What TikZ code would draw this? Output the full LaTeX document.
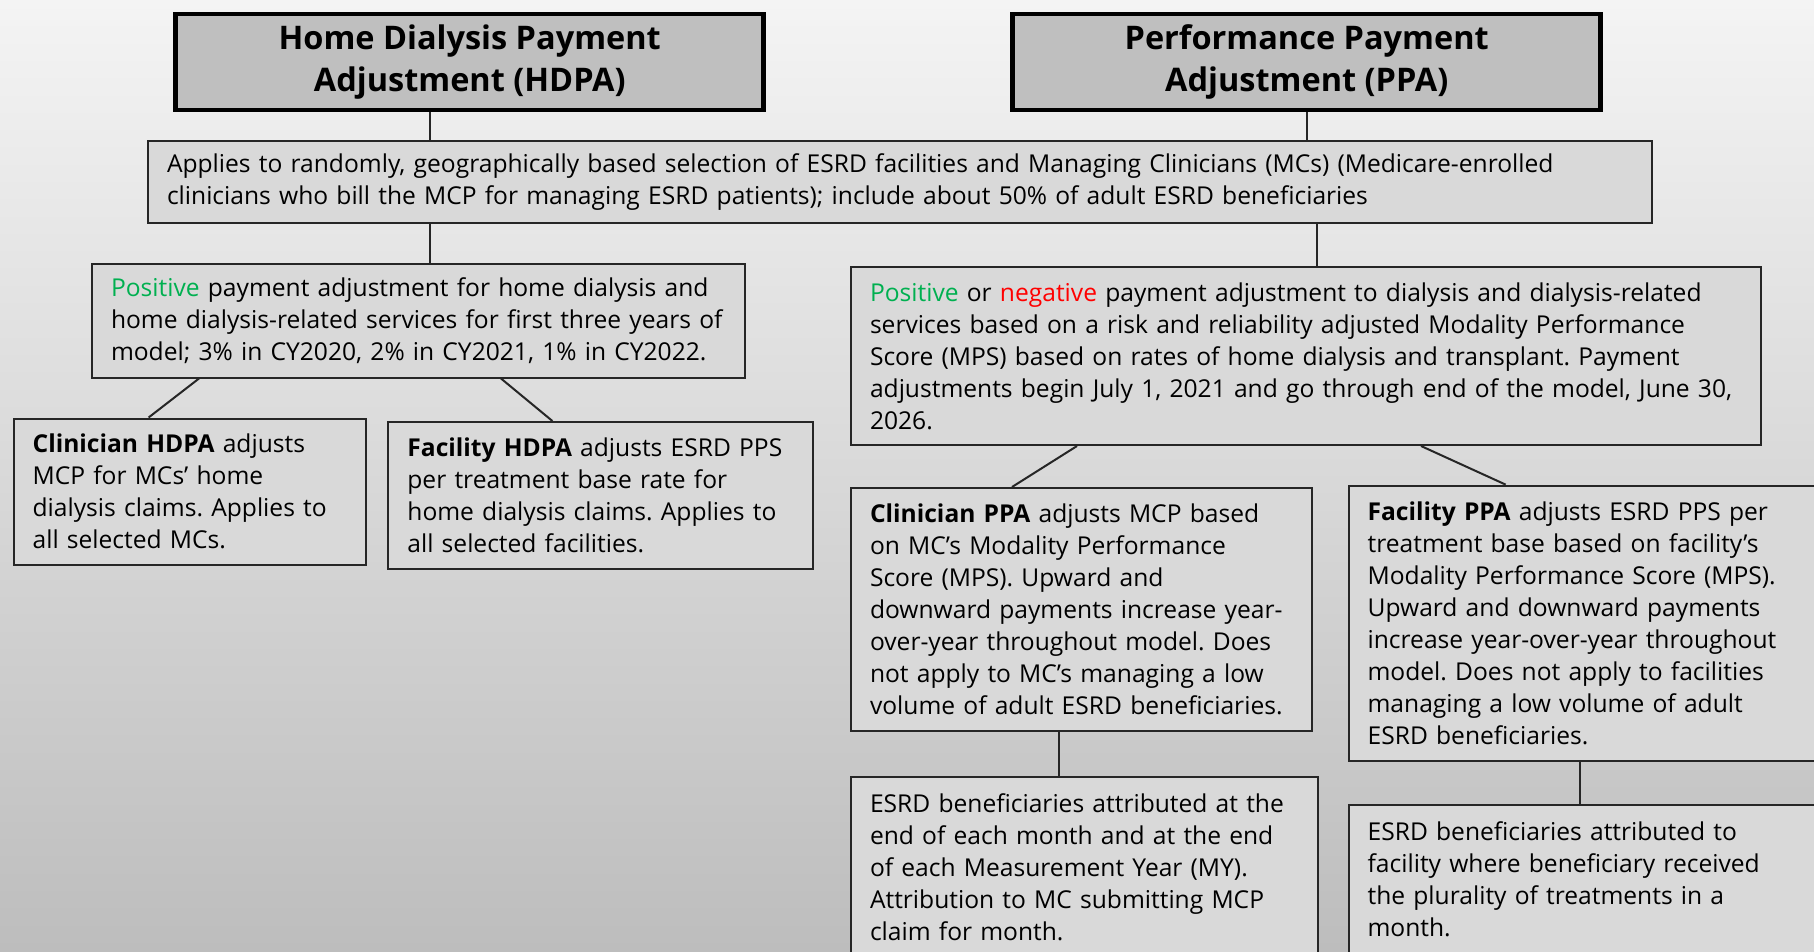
\documentclass[tikz,border=0pt]{standalone}
\usepackage{fontspec}
\setmainfont{Open Sans}
\usepackage{tikz}

\definecolor{posgreen}{HTML}{00B050}
\definecolor{negred}{HTML}{FF0000}
\definecolor{titlegray}{HTML}{BFBFBF}
\definecolor{boxgray}{HTML}{D9D9D9}
\definecolor{bgtop}{HTML}{F4F4F4}
\definecolor{bgbot}{HTML}{BDBDBD}

\newcommand{\pos}{\textcolor{posgreen}{Positive}}
\newcommand{\negt}{\textcolor{negred}{negative}}
\frenchspacing

\begin{document}
\begin{tikzpicture}[x=1pt, y=-1pt,
    title/.style={draw=black, line width=4.5pt, fill=titlegray, align=center,
      minimum width=588pt, minimum height=96pt,
      font=\fontsize{32.5}{41.5}\selectfont\bfseries},
    box/.style={draw=black!85, line width=2pt, fill=boxgray, align=left,
      anchor=north west, inner xsep=19pt, inner ysep=0pt,
      font=\fontsize{24.6}{32}\selectfont},
    link/.style={draw=black!85, line width=2pt}]
   \useasboundingbox (0,0) rectangle (1814,951);
   \clip (0,0) rectangle (1814,951);
   \shade[top color=bgtop, bottom color=bgbot] (0,0) rectangle (1814,951);

   \node[title] (hdpa) at (469.7,61.9) {Home Dialysis Payment\\Adjustment (HDPA)};
   \node[title] (ppa) at (1306.7,61.9) {Performance Payment\\Adjustment (PPA)};

   \node[box, text width=1466pt, minimum height=82pt] (apply) at (147,140)
     {Applies to randomly, geographically based selection of ESRD facilities and Managing Clinicians (MCs) (Medicare-enrolled\\
      clinicians who bill the MCP for managing ESRD patients); include about 50\% of adult ESRD beneficiaries};

   \node[box, text width=615pt, minimum height=114pt] (hpos) at (91,262.5)
     {\pos{} payment adjustment for home dialysis and\\
      \mbox{home dialysis-related services for first three years of}\\
      model; 3\% in CY2020, 2\% in CY2021, 1\% in CY2022.};
   \node[box, text width=872pt, minimum height=178pt] (ppos) at (850,266)
     {\pos{} or \negt{} payment adjustment to dialysis and dialysis-related\\
      services based on a risk and reliability adjusted Modality Performance\\
      Score (MPS) based on rates of home dialysis and transplant. Payment\\
      \mbox{adjustments begin July 1, 2021 and go through end of the model, June 30,}\\
      2026.};

   \node[box, text width=314pt, minimum height=146pt] (hclin) at (12.6,417.5)
     {\textbf{Clinician HDPA} adjusts\\
      MCP for MCs’ home\\
      dialysis claims. Applies to\\
      all selected MCs.};
   \node[box, text width=387pt, minimum height=147pt] (hfac) at (387.4,421)
     {\textbf{Facility HDPA} adjusts ESRD PPS\\
      per treatment base rate for\\
      home dialysis claims. Applies to\\
      all selected facilities.};

   \node[box, text width=423pt, minimum height=243pt] (pclin) at (850,487)
     {\textbf{Clinician PPA} adjusts MCP based\\
      on MC’s Modality Performance\\
      Score (MPS). Upward and\\
      downward payments increase year-\\
      over-year throughout model. Does\\
      not apply to MC’s managing a low\\
      volume of adult ESRD beneficiaries.};
   \node[box, text width=450pt, minimum height=275pt] (pfac) at (1347.6,484.6)
     {\textbf{Facility PPA} adjusts ESRD PPS per\\
      treatment base based on facility’s\\
      Modality Performance Score (MPS).\\
      Upward and downward payments\\
      increase year-over-year throughout\\
      model. Does not apply to facilities\\
      managing a low volume of adult\\
      ESRD beneficiaries.};

   \node[box, text width=429pt, minimum height=180pt] (pclinmy) at (850,776)
     {ESRD beneficiaries attributed at the\\
      end of each month and at the end\\
      of each Measurement Year (MY).\\
      Attribution to MC submitting MCP\\
      claim for month.};
   \node[box, text width=450pt, minimum height=148pt] (pfacmy) at (1347.6,804)
     {ESRD beneficiaries attributed to\\
      facility where beneficiary received\\
      the plurality of treatments in a\\
      month.};

   % connectors
   \coordinate (hx) at (430,0);
   \coordinate (px) at (1317,0);
   \draw[link] (hdpa.south -| hx) -- (apply.north -| hx);
   \draw[link] (ppa.south) -- (ppa.south |- apply.north);
   \draw[link] (apply.south -| hx) -- (hpos.north -| hx);
   \draw[link] (apply.south -| px) -- (ppos.north -| px);
   \draw[link] ([xshift=108pt]hpos.south west) -- ([xshift=136pt]hclin.north west);
   \draw[link] ([xshift=410pt]hpos.south west) -- ([xshift=165pt]hfac.north west);
   \draw[link] ([xshift=227pt]ppos.south west) -- ([xshift=162pt]pclin.north west);
   \draw[link] ([xshift=571pt]ppos.south west) -- ([xshift=158pt]pfac.north west);
   \draw[link] ([xshift=209pt]pclin.south west) -- ([xshift=209pt]pclinmy.north west);
   \draw[link] ([xshift=232pt]pfac.south west) -- ([xshift=232pt]pfacmy.north west);
\end{tikzpicture}
\end{document}
